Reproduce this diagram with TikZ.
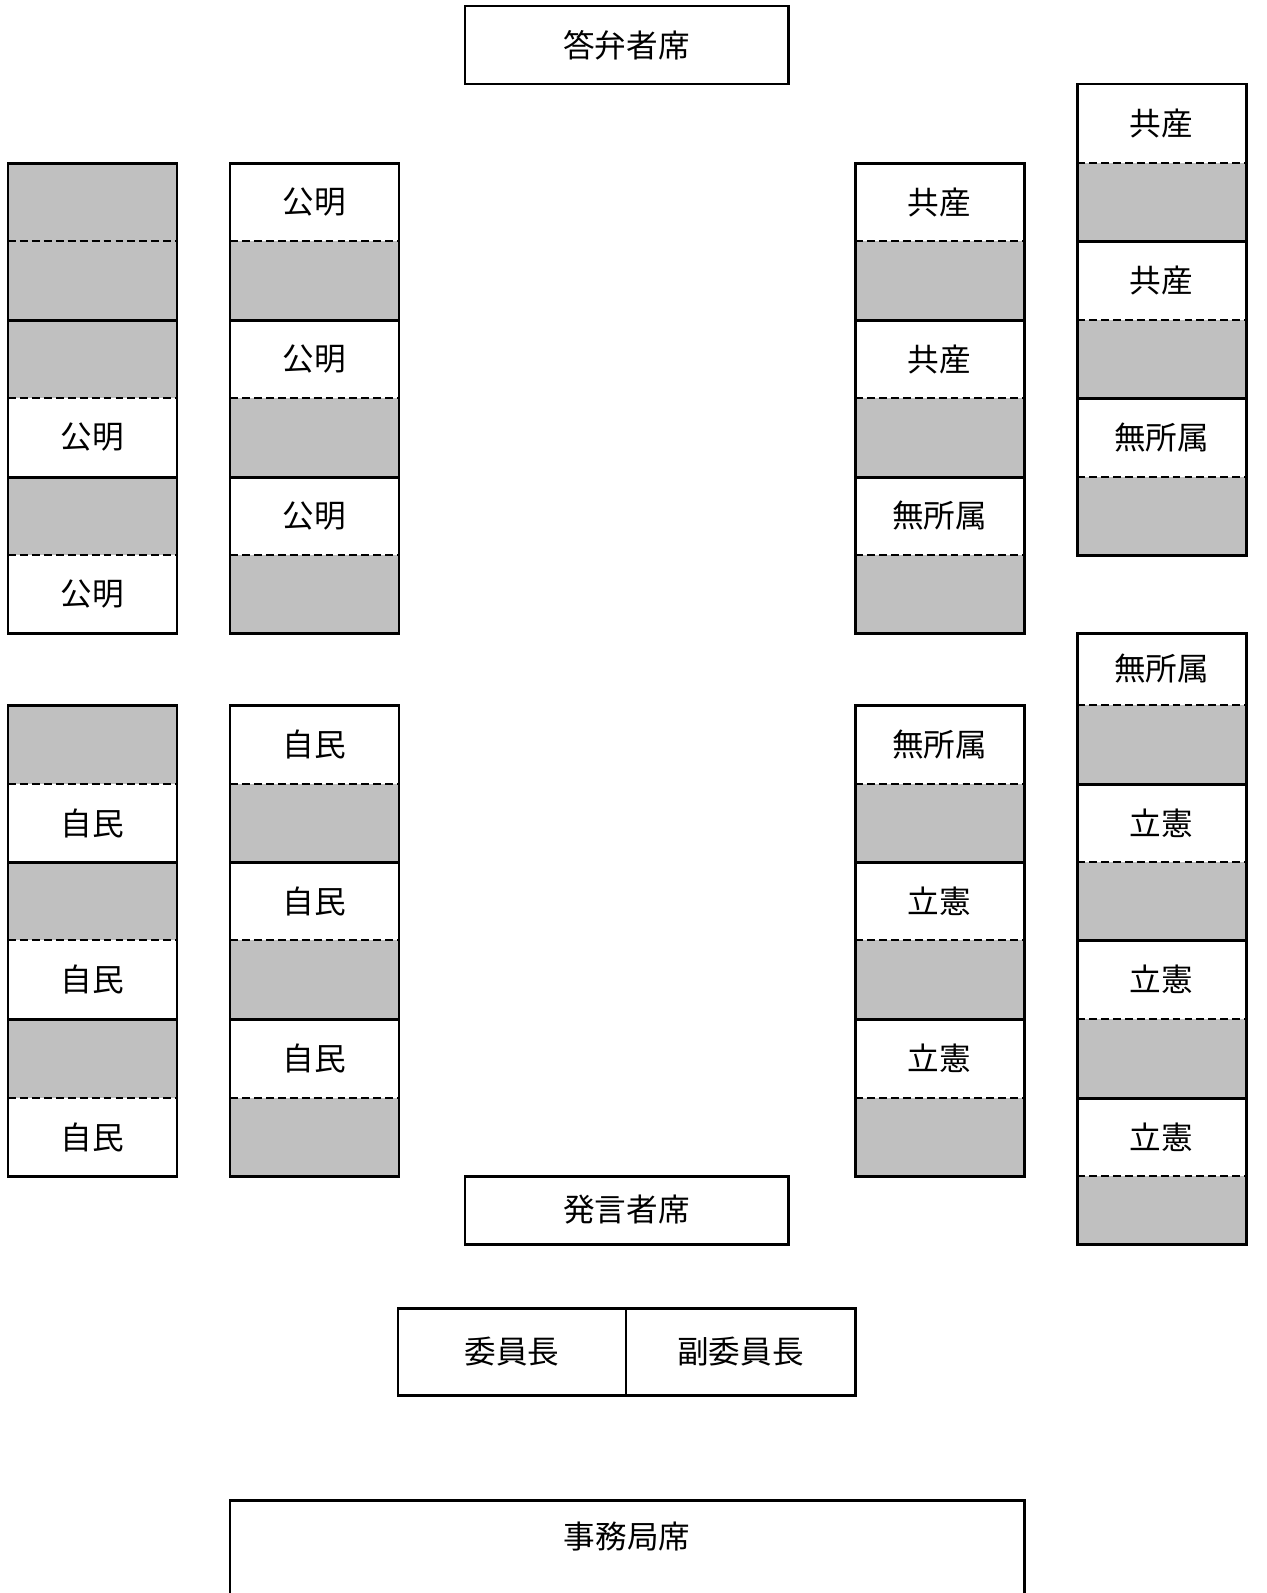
\documentclass[tikz,border=0pt]{standalone}
\usepackage{fontspec}
\setmainfont{Noto Sans CJK JP}
\definecolor{seatgray}{HTML}{C0C0C0}
\tikzset{
  seat/.style={inner sep=0pt, outer sep=0pt, anchor=center, font=\fontsize{18}{18}\selectfont},
  box/.style={draw=black, line width=1.7pt},
  divider/.style={draw=black, line width=1.1pt, dash pattern=on 4.5pt off 2.3pt}
}
% generic box: name, x1, y1, x2, y2 (pixel units, y downward), options, text
\newcommand\cellnode[7]{%
  \node[seat, #6, minimum width={(#4-#2)*0.02cm}, minimum height={(#5-#3)*0.02cm}]
    (#1) at ({(#2+#4)/2},{(#3+#5)/2}) {#7};
}
% name, x, ytop, ymid, ybot, toptext, topfill, bottext, botfill
\newcommand\seatpair[9]{%
  \cellnode{#1t}{#2}{#3}{#2+169}{#4}{fill=#7}{#6}
  \cellnode{#1b}{#2}{#4}{#2+169}{#5}{fill=#9}{#8}
  \draw[divider] (#1t.south west) -- (#1t.south east);
  \draw[box] (#1t.north west) rectangle (#1b.south east);
}
\begin{document}
\begin{tikzpicture}[x=0.02cm,y=-0.02cm]
\useasboundingbox (0,0) rectangle (1267,1593);

% upper left outer column
\seatpair{ua1}{8}{163}{241}{320}{}{seatgray}{}{seatgray}
\seatpair{ua2}{8}{320}{398}{477}{}{seatgray}{公明}{white}
\seatpair{ua3}{8}{477}{555}{633}{}{seatgray}{公明}{white}
% upper left inner column
\seatpair{ub1}{230}{163}{241}{320}{公明}{white}{}{seatgray}
\seatpair{ub2}{230}{320}{398}{477}{公明}{white}{}{seatgray}
\seatpair{ub3}{230}{477}{555}{633}{公明}{white}{}{seatgray}
% upper right inner column
\seatpair{uc1}{855}{163}{241}{320}{共産}{white}{}{seatgray}
\seatpair{uc2}{855}{320}{398}{477}{共産}{white}{}{seatgray}
\seatpair{uc3}{855}{477}{555}{633}{無所属}{white}{}{seatgray}
% upper right outer column
\seatpair{ud1}{1077}{84}{163}{241}{共産}{white}{}{seatgray}
\seatpair{ud2}{1077}{241}{320}{398}{共産}{white}{}{seatgray}
\seatpair{ud3}{1077}{398}{477}{555}{無所属}{white}{}{seatgray}

% lower left outer column
\seatpair{la1}{8}{705}{784}{862}{}{seatgray}{自民}{white}
\seatpair{la2}{8}{862}{940}{1019}{}{seatgray}{自民}{white}
\seatpair{la3}{8}{1019}{1098}{1176}{}{seatgray}{自民}{white}
% lower left inner column
\seatpair{lb1}{230}{705}{784}{862}{自民}{white}{}{seatgray}
\seatpair{lb2}{230}{862}{940}{1019}{自民}{white}{}{seatgray}
\seatpair{lb3}{230}{1019}{1098}{1176}{自民}{white}{}{seatgray}
% lower right inner column
\seatpair{lc1}{855}{705}{784}{862}{無所属}{white}{}{seatgray}
\seatpair{lc2}{855}{862}{940}{1019}{立憲}{white}{}{seatgray}
\seatpair{lc3}{855}{1019}{1098}{1176}{立憲}{white}{}{seatgray}
% lower right outer column
\seatpair{ld1}{1077}{633}{705}{784}{無所属}{white}{}{seatgray}
\seatpair{ld2}{1077}{784}{862}{940}{立憲}{white}{}{seatgray}
\seatpair{ld3}{1077}{940}{1019}{1098}{立憲}{white}{}{seatgray}
\seatpair{ld4}{1077}{1098}{1176}{1244}{立憲}{white}{}{seatgray}

% other seats
\cellnode{answer}{465}{6}{788}{84}{box}{答弁者席}
\cellnode{speaker}{465}{1176}{788}{1244}{box}{発言者席}
\cellnode{chair}{398}{1308}{626}{1395}{box}{委員長}
\cellnode{vice}{626}{1308}{855}{1395}{box}{副委員長}
\cellnode{office}{230}{1500}{1024}{1640}{box}{}
\node[seat] (officelabel) at (627,1536) {事務局席};
\end{tikzpicture}
\end{document}
